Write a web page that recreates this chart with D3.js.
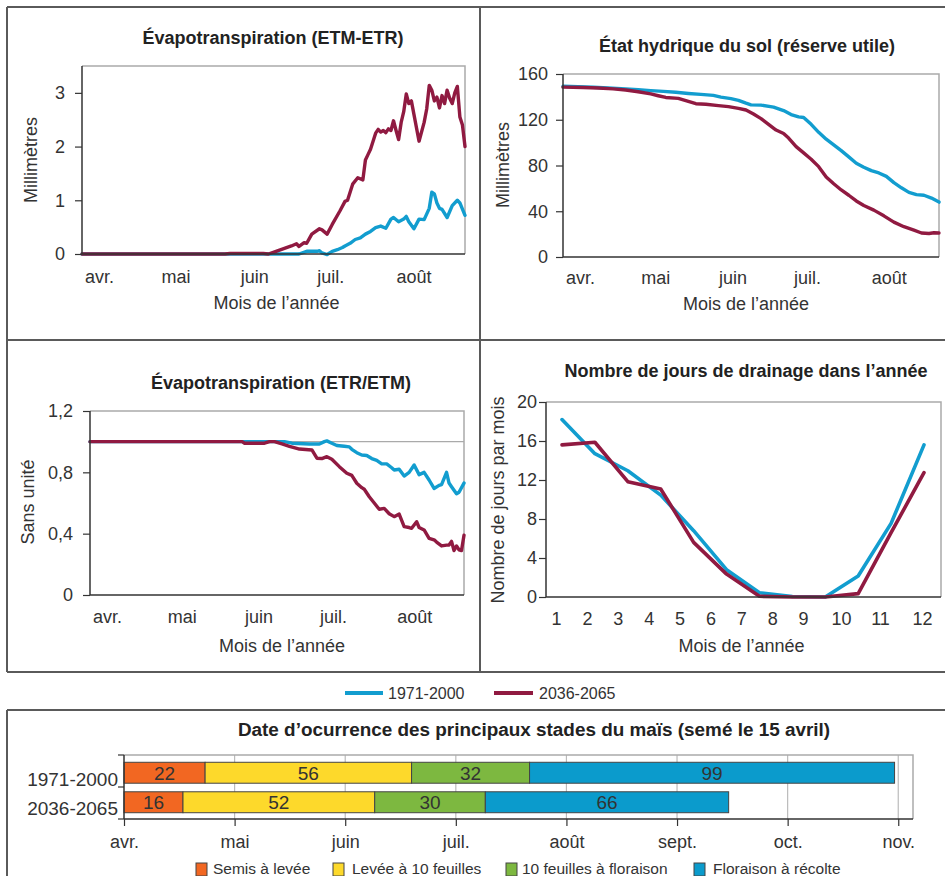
<!DOCTYPE html>
<html><head><meta charset="utf-8">
<script src="https://cdn.jsdelivr.net/npm/d3@7/dist/d3.min.js"></script>
<style>
body{margin:0;background:#fff;}
svg{display:block;font-family:"Liberation Sans",Arial,sans-serif;}
</style></head><body>
<svg id="c" width="945" height="876"></svg>
<script>
// ---------------- DATA ----------------
const seriesNames = ["1971-2000", "2036-2065"];
const seriesColors = ["#129dcf", "#901a41"];
const monthTickDays = [0, 30, 61, 91, 122];
const monthLabels = ["avr.", "mai", "juin", "juil.", "août"];

// Évapotranspiration (ETM-ETR), mm, day index from 1 April
const etmDays1971 = [0,85,88,92,93,94,96,98,100,102,103,105,107,109,111,113,115,117,119,121,122,124,126,127,128,130,132,134,136,137,138,139,140,141,143,145,147,148,150];
const etmVals1971 = [0,0,0.05,0.05,0.06,0.02,-0.01,0.05,0.08,0.12,0.15,0.2,0.27,0.3,0.37,0.42,0.49,0.52,0.48,0.65,0.68,0.6,0.65,0.7,0.6,0.47,0.65,0.64,0.85,1.15,1.12,0.95,0.85,0.83,0.68,0.9,1.0,0.95,0.72];
const etmDays2036 = [0,56,58,71,73,76,79,82,84,85,87,88,90,93,94,96,98,101,103,104,106,108,110,111,112,113,115,116,117,118,119,120,121,122,123,124,125,126,127,128,129,130,132,134,135,136,137,138,139,140,141,142,143,144,145,146,147,148,149,150];
const etmVals2036 = [0,0,0.01,0.01,0,0.05,0.1,0.15,0.19,0.14,0.21,0.2,0.37,0.47,0.45,0.37,0.55,0.8,0.98,1.0,1.3,1.42,1.38,1.75,1.85,1.95,2.25,2.32,2.27,2.3,2.26,2.33,2.3,2.48,2.3,2.13,2.45,2.65,2.98,2.8,2.85,2.6,2.1,2.45,2.7,3.14,3.05,2.85,2.92,2.72,2.95,2.8,3.05,2.9,2.8,3.0,3.12,2.55,2.4,2.0];

// État hydrique du sol (réserve utile), mm
const solDays1971 = [0,6,12,18,25,30,35,40,45,50,55,60,63,67,70,73,75,79,84,88,91,94,96,99,102,105,108,111,114,117,120,123,126,129,132,135,138,141,144,147,150];
const solVals1971 = [149.3,149,148.4,147.8,147,146.3,145.5,144.8,144,143,142.2,141.3,139.8,138.5,137,134.5,133,132.8,131,128,124.5,122.5,122,116,109,103,98,93,87.5,82,78.5,75.5,73.5,70.5,65,60.5,56.5,54.5,54,51.5,48];
const solDays2036 = [0,8,14,20,25,30,35,38,41,46,50,53,57,62,66,70,73,76,79,82,85,88,90,93,96,99,102,105,108,111,114,117,120,124,128,132,136,140,143,146,148,150];
const solVals2036 = [148.5,148.2,147.8,147,146,144.5,142.6,141,139.5,138.7,136,134,133.5,132.3,131.5,130,128.5,125,121,116,111,108,104,96.5,91,85.5,79,70,64,58.6,54,49,45,41,36,30.5,26.5,23.5,21,20.5,21.2,21];

// Évapotranspiration (ETR/ETM), sans unité
const ratioDays1971 = [0,78,81,88,92,94,95,97,99,102,104,105,107,109,111,113,115,117,119,121,122,124,126,128,130,132,134,136,138,140,141,143,144,145,147,148,150];
const ratioVals1971 = [1,1,0.99,0.985,0.985,1.0,1.005,0.99,0.975,0.97,0.966,0.95,0.928,0.913,0.91,0.89,0.878,0.855,0.855,0.83,0.815,0.82,0.776,0.8,0.848,0.785,0.8,0.75,0.695,0.715,0.72,0.8,0.73,0.706,0.66,0.67,0.73];
const ratioDays2036 = [0,61,62,70,72,74,77,80,84,89,91,93,95,97,100,103,105,107,109,110,112,114,116,118,120,122,124,126,128,129,131,132,134,136,138,139,141,143,144,145,146,147,148,149,150];
const ratioVals2036 = [1,1,0.99,0.99,1.0,1.0,0.985,0.97,0.952,0.946,0.892,0.89,0.902,0.885,0.837,0.794,0.78,0.729,0.7,0.69,0.641,0.6,0.559,0.565,0.53,0.511,0.528,0.446,0.44,0.435,0.478,0.44,0.424,0.37,0.36,0.345,0.32,0.325,0.326,0.35,0.29,0.32,0.295,0.29,0.39];

// Nombre de jours de drainage par mois
const drainMonths = [1,2,3,4,5,6,7,8,9,10,11,12];
const drain1971 = [18.2,14.7,12.95,10.45,6.8,2.8,0.44,0.05,0,2.15,7.55,15.6];
const drain2036 = [15.6,15.87,11.83,11.08,5.6,2.35,0.07,0,0,0.35,6.6,12.75];

// Stades du maïs (jours)
const stageNames = ["Semis à levée", "Levée à 10 feuilles", "10 feuilles à floraison", "Floraison à récolte"];
const stageColors = ["#f26722", "#fdd92b", "#7db840", "#0b9bcc"];
const stages1971 = [22, 56, 32, 99];
const stages2036 = [16, 52, 30, 66];
const barTickLabels = ["avr.", "mai", "juin", "juil.", "août", "sept.", "oct.", "nov."];

// ---------------- DRAWING ----------------
const svg = d3.select("#c");
const TXT = "#333";

function zip(a, b) { return a.map((d, i) => [d, b[i]]); }

// panel borders
const borders = svg.append("g").attr("stroke", "#5a5a5a").attr("stroke-width", 2);
[[7,7,945,7],[7,7,7,672],[480,7,480,672],[7,340,945,340],[7,672,945,672],[7,710,945,710],[7,710,7,876]]
  .forEach(l => borders.append("line").attr("x1", l[0]).attr("y1", l[1]).attr("x2", l[2]).attr("y2", l[3]));

function lineChart(c) {
  const g = svg.append("g");
  const x = c.xScale || d3.scaleLinear().domain([0, 150]).range([c.x0, c.x1]);
  const y = d3.scaleLinear().domain(c.yDomain).range([c.bottom, c.top]);
  g.append("path").attr("d", `M${c.x0},${c.top}H${c.x1}V${c.bottom}`)
    .attr("fill", "none").attr("stroke", "#aaa").attr("stroke-width", 1.5);
  if (c.refLine !== undefined) {
    g.append("line").attr("x1", c.x0).attr("x2", c.x1).attr("y1", y(c.refLine)).attr("y2", y(c.refLine))
      .attr("stroke", "#aaa").attr("stroke-width", 1.2);
  }
  c.series.forEach((s, i) => {
    g.append("path").datum(s).attr("fill", "none").attr("stroke", seriesColors[i])
      .attr("stroke-width", c.lw || 3.4).attr("stroke-linejoin", "round").attr("stroke-linecap", "round")
      .attr("d", d3.line().x(d => x(d[0])).y(d => y(d[1])));
  });
  const ya = g.append("g").attr("transform", `translate(${c.x0},0)`)
    .call(d3.axisLeft(y).tickValues(c.yTicks).tickSize(7).tickSizeOuter(0).tickPadding(c.yPad).tickFormat(c.yFmt || (d => d)));
  const xa = g.append("g").attr("transform", `translate(0,${c.bottom})`)
    .call(c.xAxis);
  [ya, xa].forEach(a => {
    a.select(".domain").attr("stroke", "#333").attr("stroke-width", 1.5);
    a.selectAll(".tick line").attr("stroke", "#333").attr("stroke-width", 1.2);
    a.selectAll("text").attr("fill", TXT).style("font-size", "18px").style("font-family", '"Liberation Sans",Arial,sans-serif');
  });
  if (c.xAnchorStart) xa.selectAll("text").attr("text-anchor", "start").attr("dx", 2.5);
  xa.select(".domain").attr("d", `M${c.x0},0H${c.x1}`);
  ya.select(".domain").attr("d", `M0,${c.bottom}V${c.top}`);
  g.append("text").attr("x", c.titleX).attr("y", c.titleY).attr("text-anchor", "middle")
    .attr("font-weight", "bold").attr("font-size", 18).attr("fill", "#222").text(c.title);
  g.append("text").attr("x", (c.x0 + c.x1) / 2 + (c.xTitleDx || 0)).attr("y", c.xTitleY).attr("text-anchor", "middle")
    .attr("font-size", 18).attr("fill", TXT).text("Mois de l’année");
  g.append("text").attr("transform", `translate(${c.yTitleX},${c.yTitleY}) rotate(-90)`).attr("text-anchor", "middle")
    .attr("font-size", 18).attr("fill", TXT).text(c.yTitle);
}

function monthAxis(x0, x1, pad) {
  const x = d3.scaleLinear().domain([0, 150]).range([x0, x1]);
  return d3.axisBottom(x).tickValues(monthTickDays).tickSize(0).tickSizeOuter(0).tickPadding(pad)
    .tickFormat((d, i) => monthLabels[i]);
}

lineChart({
  x0: 82, x1: 465, top: 66, bottom: 254, yDomain: [0, 3.5], yTicks: [0, 1, 2, 3], yPad: 10,
  series: [zip(etmDays1971, etmVals1971), zip(etmDays2036, etmVals2036)],
  xAxis: monthAxis(82, 465, 16), xAnchorStart: true,
  title: "Évapotranspiration (ETM-ETR)", titleX: 273, titleY: 44,
  xTitleY: 309, xTitleDx: 3, yTitle: "Millimètres", yTitleX: 36.5, yTitleY: 160
});

lineChart({
  x0: 563, x1: 939, top: 74, bottom: 257, yDomain: [0, 160], yTicks: [0, 40, 80, 120, 160], yPad: 8,
  series: [zip(solDays1971, solVals1971), zip(solDays2036, solVals2036)],
  xAxis: monthAxis(563, 939, 14.5), xAnchorStart: true,
  title: "État hydrique du sol (réserve utile)", titleX: 747, titleY: 52,
  xTitleY: 310, xTitleDx: -5, yTitle: "Millimètres", yTitleX: 509, yTitleY: 165
});

lineChart({
  x0: 90, x1: 464, top: 411, bottom: 595, yDomain: [0, 1.2], yTicks: [0, 0.4, 0.8, 1.2], yPad: 10,
  yFmt: d => d === 0 ? "0" : d3.format(".1f")(d).replace(".", ","),
  refLine: 1,
  series: [zip(ratioDays1971, ratioVals1971), zip(ratioDays2036, ratioVals2036)],
  xAxis: monthAxis(90, 464, 15.5), xAnchorStart: true,
  title: "Évapotranspiration (ETR/ETM)", titleX: 281, titleY: 389,
  xTitleY: 652, xTitleDx: 5, yTitle: "Sans unité", yTitleX: 34, yTitleY: 502
});

const drainX = d3.scaleLinear().domain([1, 12]).range([562, 924]);
const drainLabelX = d3.scaleLinear().domain([1, 9, 10, 11, 12]).range([556, 803, 841, 880, 922]);
lineChart({
  x0: 546, x1: 941, top: 402, bottom: 597, yDomain: [0, 20], yTicks: [0, 4, 8, 12, 16, 20], yPad: 2,
  xScale: drainX, lw: 3.6,
  series: [zip(drainMonths, drain1971), zip(drainMonths, drain2036)],
  xAxis: d3.axisBottom(drainLabelX).tickValues(drainMonths).tickSize(0).tickSizeOuter(0).tickPadding(15).tickFormat(d => d),
  title: "Nombre de jours de drainage dans l’année", titleX: 746, titleY: 377,
  xTitleY: 652, xTitleDx: -2, yTitle: "Nombre de jours par mois", yTitleX: 504, yTitleY: 500
});

// legend for lines
const lg = svg.append("g");
[[345, 383, 388], [494, 533, 539]].forEach((p, i) => {
  lg.append("line").attr("x1", p[0]).attr("x2", p[1]).attr("y1", 693).attr("y2", 693)
    .attr("stroke", seriesColors[i]).attr("stroke-width", 4);
  lg.append("text").attr("x", p[2]).attr("y", 699).attr("font-size", 16).attr("fill", TXT).text(seriesNames[i]);
});

// ---------------- BAR CHART ----------------
const bg = svg.append("g");
const bx = d3.scaleLinear().domain([0, 214]).range([124, 913]);
const by = d3.scaleBand().domain(seriesNames).range([758, 817]).paddingInner(0.29).paddingOuter(0.145);
const barTop = 755, barBottom = 819;
const barTickDays = barTickLabels.map((d, i) => i * 30);

bg.append("text").attr("x", 534).attr("y", 736).attr("text-anchor", "middle").attr("font-weight", "bold")
  .attr("font-size", 18.9).attr("fill", "#222").text("Date d’ocurrence des principaux stades du maïs (semé le 15 avril)");

bg.selectAll("line.grid").data(barTickDays.slice(1)).join("line").attr("class", "grid")
  .attr("x1", d => bx(d)).attr("x2", d => bx(d)).attr("y1", barTop).attr("y2", barBottom)
  .attr("stroke", "#bbb").attr("stroke-width", 1.2);
bg.append("path").attr("d", `M124,${barTop}H${bx(214)}V${barBottom}`).attr("fill", "none")
  .attr("stroke", "#aaa").attr("stroke-width", 1.5);

[stages1971, stages2036].forEach((st, si) => {
  let acc = 0;
  st.forEach((v, k) => {
    const s0 = acc; acc += v;
    bg.append("rect").attr("x", bx(s0)).attr("width", bx(acc) - bx(s0))
      .attr("y", by(seriesNames[si])).attr("height", by.bandwidth())
      .attr("fill", stageColors[k]).attr("stroke", "#444").attr("stroke-width", 1);
    bg.append("text").attr("x", (bx(s0) + bx(acc)) / 2).attr("y", by(seriesNames[si]) + by.bandwidth() / 2 + 7)
      .attr("text-anchor", "middle").attr("font-size", 19).attr("fill", TXT).text(v);
  });
});

const bxa = bg.append("g").attr("transform", `translate(0,${barBottom})`)
  .call(d3.axisBottom(bx).tickValues(barTickDays).tickSize(7).tickSizeOuter(0).tickPadding(9)
    .tickFormat((d, i) => barTickLabels[i]));
bxa.select(".domain").attr("d", `M124,0H${bx(214)}`).attr("stroke", "#333").attr("stroke-width", 1.5);
bxa.selectAll(".tick line").attr("stroke", "#333").attr("stroke-width", 1.2);
bxa.selectAll("text").attr("fill", TXT).style("font-size", "18px").style("font-family", '"Liberation Sans",Arial,sans-serif');

bg.append("line").attr("x1", 124).attr("x2", 124).attr("y1", barTop).attr("y2", barBottom).attr("stroke", "#333").attr("stroke-width", 1.5);
[barTop, (barTop + barBottom) / 2, barBottom].forEach(yv =>
  bg.append("line").attr("x1", 118).attr("x2", 124).attr("y1", yv).attr("y2", yv).attr("stroke", "#333").attr("stroke-width", 1.2));
seriesNames.forEach(n => bg.append("text").attr("x", 118).attr("y", by(n) + by.bandwidth() / 2 + 13)
  .attr("text-anchor", "end").attr("font-size", 19).attr("fill", TXT).text(n));

const legX = [[196, 213], [333, 352], [506, 522], [694, 713]];
stageNames.forEach((n, i) => {
  bg.append("rect").attr("x", legX[i][0]).attr("y", 863).attr("width", 11).attr("height", 13)
    .attr("fill", stageColors[i]).attr("stroke", "#444").attr("stroke-width", 1);
  bg.append("text").attr("x", legX[i][1]).attr("y", 874).attr("font-size", 15.5).attr("fill", TXT).text(n);
});
</script>
</body></html>
